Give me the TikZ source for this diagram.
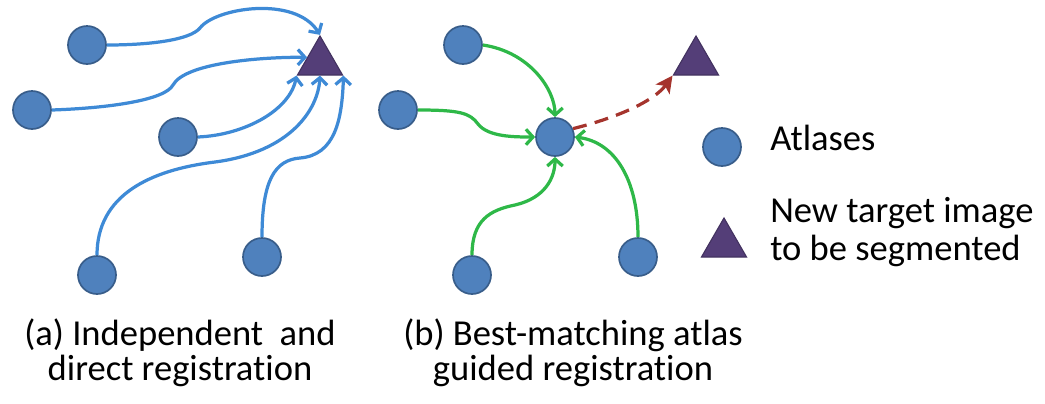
\documentclass[tikz,border=0pt]{standalone}
\usepackage{fontspec}
\setmainfont{Carlito}[Ligatures=NoCommon]
\usetikzlibrary{arrows,arrows.meta,shapes.geometric}
\definecolor{atlasblue}{RGB}{79,129,189}
\definecolor{atlasedge}{RGB}{56,93,138}
\definecolor{lineblue}{RGB}{62,138,214}
\definecolor{linegreen}{RGB}{46,184,72}
\definecolor{targetpurple}{RGB}{84,62,120}
\definecolor{dashred}{RGB}{165,52,45}
\tikzset{
  atlas/.style={circle,fill=atlasblue,draw=atlasedge,line width=1.2pt,minimum size=0.95cm,inner sep=0pt},
  target/.style={regular polygon,regular polygon sides=3,fill=targetpurple,draw=targetpurple!80!black,line width=0.8pt,minimum size=1.3cm,inner sep=0pt},
  direct/.style={-{Straight Barb[length=5pt,width=11pt]},draw=lineblue,line width=2.3pt},
  guided/.style={-{Straight Barb[length=5pt,width=11pt]},draw=linegreen,line width=2.3pt},
  label/.style={font=\fontsize{26}{25}\selectfont,inner sep=0pt}
}
\begin{document}
\begin{tikzpicture}[x=0.025cm,y=-0.025cm]
\useasboundingbox (0,0) rectangle (1045,403);
% (a) independent registration
\node[target] (T1) at (320,62) {};
\node[atlas] (A1) at (87,45) {};
\node[atlas] (A2) at (32,110) {};
\node[atlas] (A3) at (178,137) {};
\node[atlas] (A4) at (97,275) {};
\node[atlas] (A5) at (262,257) {};
\draw[direct] (A1.east) .. controls (150,45) and (190,40) .. (200,28)
  .. controls (215,8) and (295,-5) .. (T1.corner 1);
\draw[direct] (A2.east) .. controls (110,108) and (165,100) .. (173,85)
  .. controls (185,63) and (260,57) .. (T1.160);
\draw[direct] (A3.east) .. controls (245,135) and (290,110) .. (T1.corner 2);
\draw[direct] (A4.north) .. controls (97,195) and (150,170) .. (215,162)
  .. controls (290,152) and (318,110) .. (T1.south);
\draw[direct] (A5.north) .. controls (262,180) and (275,160) .. (300,158)
  .. controls (335,155) and (342,120) .. (T1.corner 3);
\node[label,align=center] (capA) at (180,353) {(a) Independent\ \ and\\direct registration};
% (b) guided by best-matching atlas
\node[target] (T2) at (696,62) {};
\node[atlas] (H) at (555,137) {};
\node[atlas] (B1) at (463,45) {};
\node[atlas] (B2) at (398,110) {};
\node[atlas] (B3) at (472,275) {};
\node[atlas] (B4) at (638,257) {};
\draw[guided] (B1.east) .. controls (530,52) and (555,90) .. (H.north);
\draw[guided] (B2.east) .. controls (460,110) and (470,113) .. (478,124)
  .. controls (488,137) and (515,137) .. (H.west);
\draw[guided] (B3.north) .. controls (472,220) and (490,210) .. (515,205)
  .. controls (545,198) and (555,178) .. (H.south);
\draw[guided] (B4.north) .. controls (638,180) and (615,142) .. (H.east);
\draw[dash pattern=on 10pt off 6pt,-{Stealth[length=12pt,width=12pt,inset=3pt]},draw=dashred,line width=2.3pt]
  (H.25) .. controls (620,117) and (655,100) .. (T2.corner 2);
\node[label,align=center] (capB) at (573,353) {(b) Best-matching atlas\\guided registration};
% legend
\node[atlas] (legA) at (722,147) {};
\node[label,anchor=base west] (txtA) at (770,150) {Atlases};
\node[target] (legT) at (724,244) {};
\node[label,anchor=base west,align=left] (txtT) at (770,260) {New target image\\[2pt]to be segmented};
\end{tikzpicture}
\end{document}
